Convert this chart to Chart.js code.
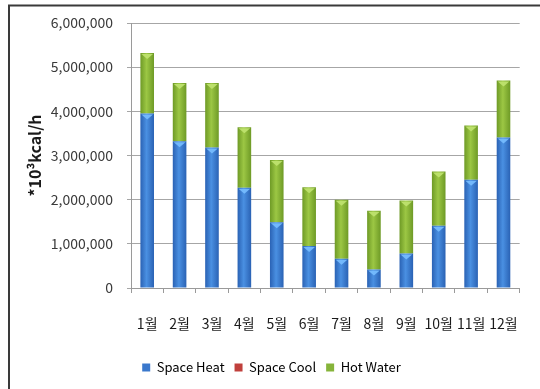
<!DOCTYPE html>
<html>
<head>
<meta charset="utf-8">
<script src="https://cdn.jsdelivr.net/npm/chart.js@4.4.1/dist/chart.umd.min.js"></script>
<style>
  html, body { margin: 0; padding: 0; background: #ffffff; }
  #wrap { width: 540px; height: 389px; position: relative; }
</style>
</head>
<body>
<div id="wrap"><canvas id="chart" width="540" height="389"></canvas></div>
<script>
// Monthly load, *10^3 kcal/h
const months = ['1월', '2월', '3월', '4월', '5월', '6월', '7월', '8월', '9월', '10월', '11월', '12월'];
const spaceHeat = [3950000, 3320000, 3180000, 2270000, 1490000, 950000, 660000, 420000, 780000, 1410000, 2450000, 3410000];
const spaceCool = [0, 0, 0, 0, 0, 0, 0, 0, 0, 0, 0, 0];
const hotWater = [1370000, 1320000, 1460000, 1370000, 1410000, 1330000, 1340000, 1330000, 1200000, 1230000, 1230000, 1290000];
const yTickValues = [0, 1000000, 2000000, 3000000, 4000000, 5000000, 6000000];

const FONT = '"Noto Sans CJK KR", "Noto Sans", sans-serif';
const BAR_PCT = 0.42;

// Horizontal shading across each bar: darker edges, lighter middle
function barShade(edge, mid) {
  return function (ctx) {
    const chart = ctx.chart;
    const xs = chart.scales.x;
    if (!xs || ctx.dataIndex === undefined) return mid;
    const cx = xs.getPixelForValue(ctx.dataIndex);
    const w = (xs.width / months.length) * BAR_PCT;
    const g = chart.ctx.createLinearGradient(cx - w / 2, 0, cx + w / 2, 0);
    g.addColorStop(0, edge);
    g.addColorStop(0.45, mid);
    g.addColorStop(1, edge);
    return g;
  };
}

// Frame around the chart and white backdrop
const framePlugin = {
  id: 'frame',
  beforeDraw(chart) {
    const c = chart.ctx;
    c.save();
    c.fillStyle = '#ffffff';
    c.fillRect(0, 0, chart.width, chart.height);
    c.strokeStyle = '#3a3a3a';
    c.lineWidth = 2;
    c.beginPath();
    c.moveTo(9, chart.height + 2);
    c.lineTo(9, 5.5);
    c.lineTo(chart.width + 2, 5.5);
    c.stroke();
    c.restore();
  }
};

// Light bevel wedge at the top of every bar segment
const bevelPlugin = {
  id: 'bevel',
  afterDatasetsDraw(chart) {
    const c = chart.ctx;
    const tints = ['rgba(120,190,255,0.9)', 'rgba(240,140,140,0.9)', 'rgba(190,225,110,0.95)'];
    chart.data.datasets.forEach((ds, di) => {
      const meta = chart.getDatasetMeta(di);
      meta.data.forEach((el) => {
        const h = Math.abs(el.base - el.y);
        if (h < 2) return;
        const half = el.width / 2;
        c.save();
        c.fillStyle = tints[di];
        c.beginPath();
        c.moveTo(el.x - half + 1, el.y + 1);
        c.lineTo(el.x + half - 1, el.y + 1);
        c.lineTo(el.x, el.y + Math.min(6, h));
        c.closePath();
        c.fill();
        c.restore();
      });
    });
  }
};

new Chart(document.getElementById('chart'), {
  type: 'bar',
  data: {
    labels: months,
    datasets: [
      {
        label: 'Space Heat',
        data: spaceHeat,
        backgroundColor: barShade('#2a62b4', '#4a90e2'),
        borderWidth: 0
      },
      {
        label: 'Space Cool',
        data: spaceCool,
        backgroundColor: barShade('#a8302c', '#d2504a'),
        borderWidth: 0
      },
      {
        label: 'Hot Water',
        data: hotWater,
        backgroundColor: barShade('#6e9a26', '#9cc744'),
        borderWidth: 0
      }
    ]
  },
  options: {
    responsive: false,
    animation: false,
    datasets: {
      bar: { barPercentage: BAR_PCT, categoryPercentage: 1 }
    },
    layout: { padding: { top: 23, left: 10, right: 7, bottom: 5 } },
    plugins: {
      tooltip: { enabled: false },
      legend: {
        position: 'bottom',
        labels: {
          font: { family: FONT, size: 13 },
          color: '#222222',
          boxWidth: 8,
          boxHeight: 8,
          padding: 10,
          generateLabels(chart) {
            const fills = ['#3a78cc', '#c0403c', '#86b43a'];
            return chart.data.datasets.map((ds, i) => ({
              text: ds.label,
              fillStyle: fills[i],
              strokeStyle: fills[i],
              lineWidth: 0,
              hidden: false,
              datasetIndex: i
            }));
          }
        }
      }
    },
    scales: {
      x: {
        stacked: true,
        grid: {
          offset: true,
          drawOnChartArea: false,
          drawTicks: true,
          tickLength: 5,
          color: '#9a9a9a'
        },
        border: { color: '#9a9a9a', width: 1 },
        ticks: {
          font: { family: FONT, size: 14 },
          color: '#1a1a1a',
          padding: 22,
          maxRotation: 0,
          autoSkip: false
        },
        afterFit(scale) { scale.height = 63; }
      },
      y: {
        stacked: true,
        min: 0,
        max: 6000000,
        afterBuildTicks(scale) {
          scale.ticks = yTickValues.map(v => ({ value: v }));
        },
        grid: {
          color: '#a6a6a6',
          lineWidth: 1,
          drawTicks: true,
          tickLength: 4
        },
        border: { color: '#9a9a9a', width: 1 },
        ticks: {
          font: { family: FONT, size: 14 },
          color: '#3a3a3a',
          padding: 14,
          callback(v) { return Number(v).toLocaleString('en-US'); }
        },
        title: {
          display: true,
          text: '*10³kcal/h',
          font: { family: FONT, size: 16, weight: 'bold' },
          color: '#1a1a1a',
          padding: { top: 15, bottom: 0 }
        },
        afterFit(scale) { scale.width = 121; }
      }
    }
  },
  plugins: [framePlugin, bevelPlugin]
});
</script>
</body>
</html>
